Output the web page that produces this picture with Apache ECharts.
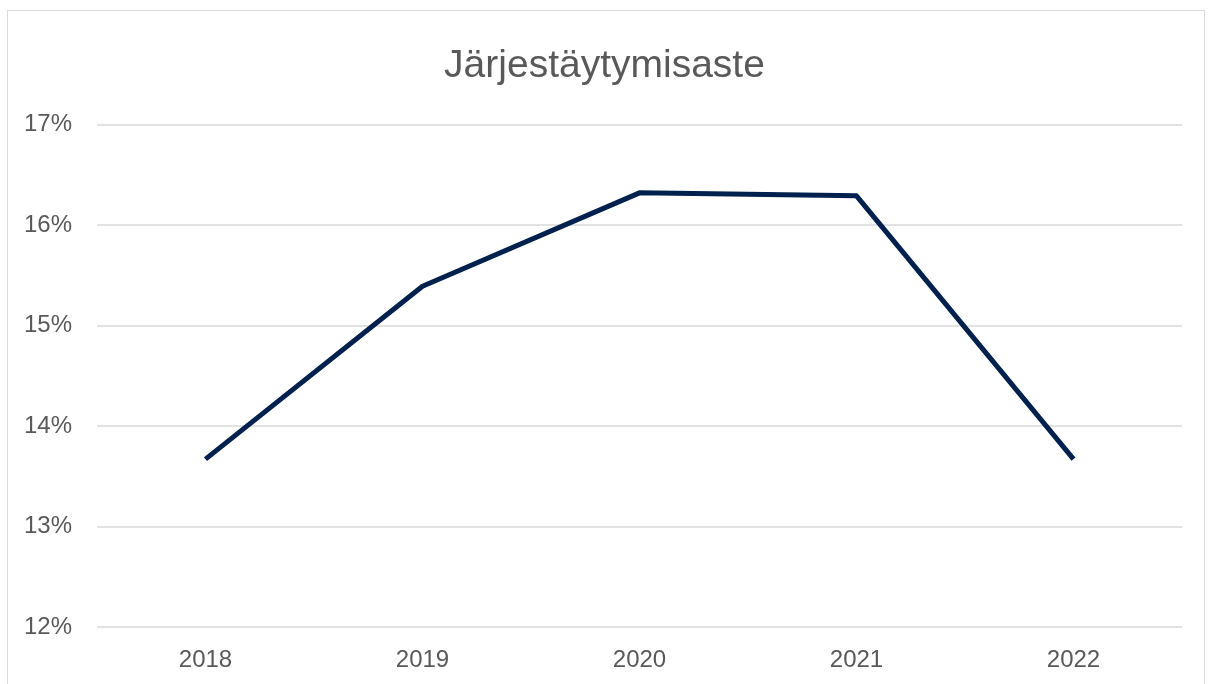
<!DOCTYPE html>
<html>
<head>
<meta charset="utf-8">
<script src="https://cdn.jsdelivr.net/npm/echarts@6/dist/echarts.min.js"></script>
<style>
  html, body { margin: 0; padding: 0; background: #fff; overflow: hidden; }
  #frame { position: absolute; left: 7px; top: 10px; width: 1198px; height: 700px; border: 1px solid #d9d9d9; box-sizing: border-box; }
  #chart { position: absolute; left: 0; top: 0; width: 1209px; height: 684px; }
</style>
</head>
<body>
<div id="frame"></div>
<div id="chart"></div>
<script>
const years = ["2018", "2019", "2020", "2021", "2022"];
const rate = [13.67, 15.39, 16.32, 16.29, 13.67];
const yTicks = { min: 12, max: 17, step: 1 };

const chart = echarts.init(document.getElementById("chart"));
chart.setOption({
  animation: false,
  title: {
    text: "Järjestäytymisaste",
    left: "center",
    top: 42,
    textStyle: { fontFamily: "Liberation Sans", fontSize: 39, fontWeight: "normal", color: "#595959" }
  },
  grid: { left: 97, right: 27, top: 124.5, bottom: 57 },
  xAxis: {
    type: "category",
    data: years,
    boundaryGap: true,
    axisLine: { show: false },
    axisTick: { show: false },
    axisLabel: { margin: 21, fontFamily: "Liberation Sans", fontSize: 24, color: "#595959" }
  },
  yAxis: {
    type: "value",
    min: yTicks.min,
    max: yTicks.max,
    interval: yTicks.step,
    axisLine: { show: false },
    axisTick: { show: false },
    axisLabel: { margin: 25, fontFamily: "Liberation Sans", fontSize: 24, color: "#595959", formatter: "{value}%" },
    splitLine: { lineStyle: { color: "#d9d9d9", width: 1.5 } }
  },
  series: [{
    type: "line",
    data: rate,
    symbol: "none",
    lineStyle: { color: "#00204d", width: 5, join: "round" }
  }]
});
</script>
</body>
</html>
